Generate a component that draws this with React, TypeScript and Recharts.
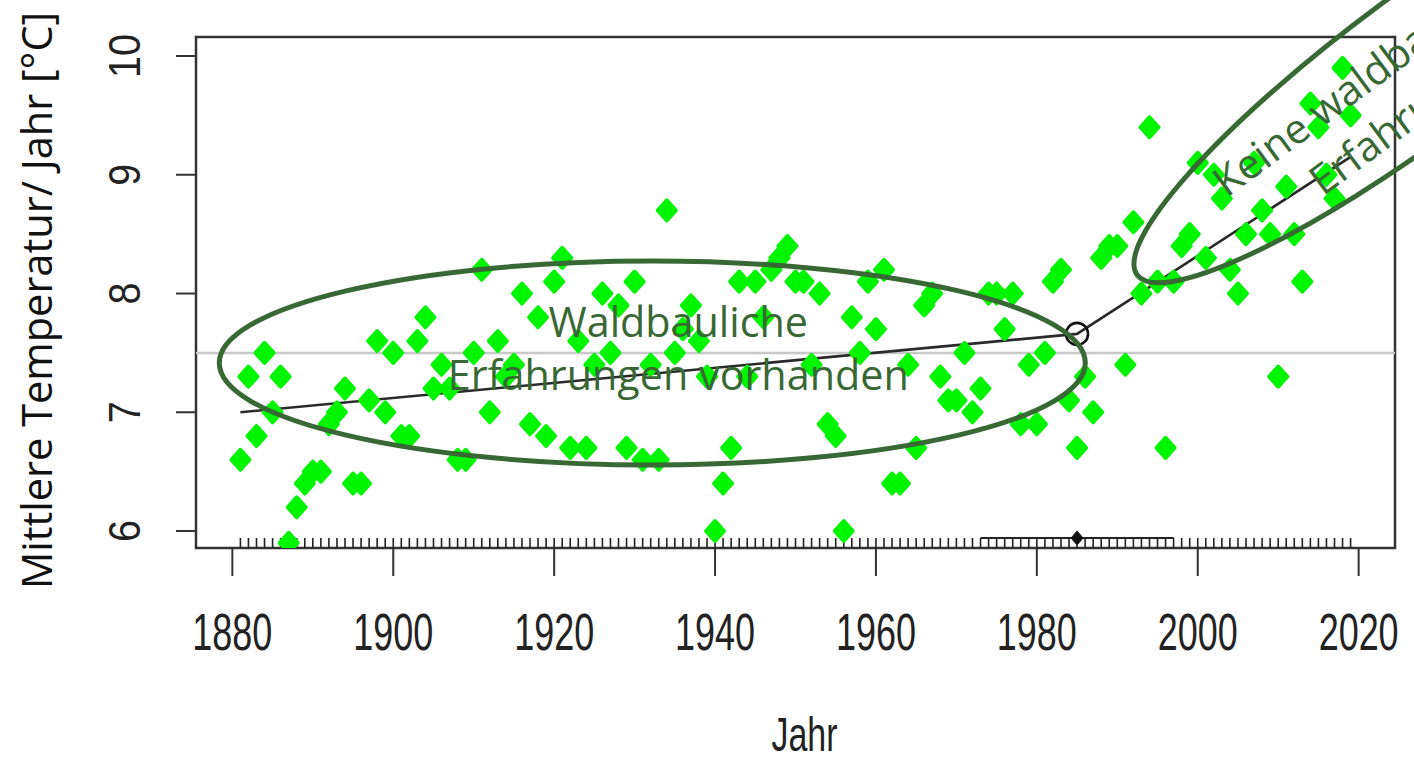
import React from 'react';
import {
  ComposedChart,
  Scatter,
  Line,
  XAxis,
  YAxis,
  ReferenceLine,
  ReferenceDot,
  ReferenceArea,
} from 'recharts';

// ---- data ----
const years = [
  1881, 1882, 1883, 1884, 1885, 1886, 1887, 1888, 1889, 1890,
  1891, 1892, 1893, 1894, 1895, 1896, 1897, 1898, 1899, 1900,
  1901, 1902, 1903, 1904, 1905, 1906, 1907, 1908, 1909, 1910,
  1911, 1912, 1913, 1914, 1915, 1916, 1917, 1918, 1919, 1920,
  1921, 1922, 1923, 1924, 1925, 1926, 1927, 1928, 1929, 1930,
  1931, 1932, 1933, 1934, 1935, 1936, 1937, 1938, 1939, 1940,
  1941, 1942, 1943, 1944, 1945, 1946, 1947, 1948, 1949, 1950,
  1951, 1952, 1953, 1954, 1955, 1956, 1957, 1958, 1959, 1960,
  1961, 1962, 1963, 1964, 1965, 1966, 1967, 1968, 1969, 1970,
  1971, 1972, 1973, 1974, 1975, 1976, 1977, 1978, 1979, 1980,
  1981, 1982, 1983, 1984, 1985, 1986, 1987, 1988, 1989, 1990,
  1991, 1992, 1993, 1994, 1995, 1996, 1997, 1998, 1999, 2000,
  2001, 2002, 2003, 2004, 2005, 2006, 2007, 2008, 2009, 2010,
  2011, 2012, 2013, 2014, 2015, 2016, 2017, 2018, 2019,
];

const temps = [
  6.6, 7.3, 6.8, 7.5, 7.0, 7.3, 5.9, 6.2, 6.4, 6.5,
  6.5, 6.9, 7.0, 7.2, 6.4, 6.4, 7.1, 7.6, 7.0, 7.5,
  6.8, 6.8, 7.6, 7.8, 7.2, 7.4, 7.2, 6.6, 6.6, 7.5,
  8.2, 7.0, 7.6, 7.3, 7.4, 8.0, 6.9, 7.8, 6.8, 8.1,
  8.3, 6.7, 7.6, 6.7, 7.4, 8.0, 7.5, 7.9, 6.7, 8.1,
  6.6, 7.4, 6.6, 8.7, 7.5, 7.7, 7.9, 7.6, 7.3, 6.0,
  6.4, 6.7, 8.1, 7.3, 8.1, 7.8, 8.2, 8.3, 8.4, 8.1,
  8.1, 7.4, 8.0, 6.9, 6.8, 6.0, 7.8, 7.5, 8.1, 7.7,
  8.2, 6.4, 6.4, 7.4, 6.7, 7.9, 8.0, 7.3, 7.1, 7.1,
  7.5, 7.0, 7.2, 8.0, 8.0, 7.7, 8.0, 6.9, 7.4, 6.9,
  7.5, 8.1, 8.2, 7.1, 6.7, 7.3, 7.0, 8.3, 8.4, 8.4,
  7.4, 8.6, 8.0, 9.4, 8.1, 6.7, 8.1, 8.4, 8.5, 9.1,
  8.3, 9.0, 8.8, 8.2, 8.0, 8.5, 9.1, 8.7, 8.5, 7.3,
  8.9, 8.5, 8.1, 9.6, 9.4, 9.0, 8.8, 9.9, 9.5,
];

const xTicks = [1880, 1900, 1920, 1940, 1960, 1980, 2000, 2020];
const yTicks = [6, 7, 8, 9, 10];

// segmented regression fit (breakpoint 1985)
const fitYears = [1881, 1985, 2019];
const fitValues = [7.0, 7.66, 9.15];
const breakYear = 1985;
const breakValue = 7.66;
const breakCI = [1973, 1997];
const meanTemp = 7.5;

const X_DOMAIN = [1875.48, 2024.52];
const Y_DOMAIN = [5.857, 10.16];

// annotation anchors (data coordinates)
const noteLeft = { year: 1932.2, value: 7.415, lines: ['Waldbauliche', 'Erfahrungen vorhanden'] };
const noteRight = { year: 2027.6, value: 9.924, lines: ['Keine waldbaulichen', 'Erfahrungen'] };

const points = years.map((y, i) => ({ year: y, temp: temps[i] }));
const rug = years.map((y) => ({ year: y, temp: Y_DOMAIN[0] }));
const fit = fitYears.map((y, i) => ({ year: y, fit: fitValues[i] }));

const GREEN = '#00f500';
const NOTE = '#386834';
const NOTE_FONT = '"Open Sans", "Noto Sans", sans-serif';
const AXIS_FONT = '"Liberation Sans", Arial, sans-serif';

const Diamond = (p: any) => {
  const { cx, cy } = p;
  if (cx == null || cy == null) return null;
  return (
    <path
      d={`M${cx},${cy - 10}L${cx + 9},${cy}L${cx},${cy + 10}L${cx - 9},${cy}Z`}
      fill={GREEN}
      stroke={GREEN}
      strokeWidth={4}
      strokeLinejoin="round"
    />
  );
};

const RugTick = (p: any) => {
  const { cx, cy } = p;
  if (cx == null || cy == null) return null;
  return <line x1={cx} x2={cx} y1={cy - 10} y2={cy} stroke="#222" strokeWidth={1.6} />;
};

const XTick = (p: any) => {
  const { x, y, payload } = p;
  return (
    <text
      x={x}
      y={y + 72}
      textAnchor="middle"
      fontFamily={AXIS_FONT}
      fontSize={52}
      textLength={80}
      lengthAdjust="spacingAndGlyphs"
      fill="#222"
    >
      {payload.value}
    </text>
  );
};

const YTick = (p: any) => {
  const { x, y, payload } = p;
  const s = String(payload.value);
  const bx = x - 34;
  return (
    <text
      x={bx}
      y={y}
      transform={`rotate(-90 ${bx} ${y})`}
      textAnchor="middle"
      fontFamily={AXIS_FONT}
      fontSize={44}
      textLength={22 * s.length}
      lengthAdjust="spacingAndGlyphs"
      fill="#222"
    >
      {s}
    </text>
  );
};

const XTitle = (p: any) => {
  const vb = p.viewBox || { x: 196, y: 548, width: 1199, height: 209 };
  const cx = vb.x + vb.width / 2 + 9;
  return (
    <text
      x={cx}
      y={vb.y + 203}
      textAnchor="middle"
      fontFamily={AXIS_FONT}
      fontSize={48}
      textLength={66}
      lengthAdjust="spacingAndGlyphs"
      fill="#222"
    >
      Jahr
    </text>
  );
};

const YTitle = (p: any) => {
  const vb = p.viewBox || { x: 0, y: 37, width: 196, height: 511 };
  const bx = vb.x + 52;
  const cy = vb.y + vb.height / 2 + 8;
  return (
    <text
      x={bx}
      y={cy}
      transform={`rotate(-90 ${bx} ${cy})`}
      textAnchor="middle"
      fontFamily={NOTE_FONT}
      fontSize={41.5}
      fill="#111"
    >
      Mittlere Temperatur/ Jahr [°C]
    </text>
  );
};

const LeftNote = (p: any) => {
  const { cx, cy } = p;
  if (cx == null || cy == null) return null;
  return (
    <g>
      <ellipse cx={cx} cy={cy} rx={433} ry={102} fill="none" stroke={NOTE} strokeWidth={5} />
      <text x={cx + 26} y={cy - 26} textAnchor="middle" fontFamily={NOTE_FONT} fontSize={41.3} fill={NOTE}>
        {noteLeft.lines[0]}
      </text>
      <text x={cx + 26} y={cy + 27} textAnchor="middle" fontFamily={NOTE_FONT} fontSize={41.3} fill={NOTE}>
        {noteLeft.lines[1]}
      </text>
    </g>
  );
};

const RightNote = (p: any) => {
  const { cx, cy } = p;
  if (cx == null || cy == null) return null;
  return (
    <g transform={`rotate(-36.6 ${cx} ${cy})`}>
      <ellipse cx={cx} cy={cy} rx={352} ry={72} fill="none" stroke={NOTE} strokeWidth={5} />
      <text x={cx - 36} y={cy - 8} textAnchor="middle" fontFamily={NOTE_FONT} fontSize={41.3} fill={NOTE}>
        {noteRight.lines[0]}
      </text>
      <text x={cx - 36} y={cy + 48} textAnchor="middle" fontFamily={NOTE_FONT} fontSize={41.3} fill={NOTE}>
        {noteRight.lines[1]}
      </text>
    </g>
  );
};

const BreakCircle = (p: any) => {
  const { cx, cy } = p;
  if (cx == null || cy == null) return null;
  return <circle cx={cx} cy={cy} r={11} fill="none" stroke="#111" strokeWidth={2.6} />;
};

const CIDiamond = (p: any) => {
  const { cx, cy } = p;
  if (cx == null || cy == null) return null;
  return (
    <path
      d={`M${cx},${cy - 7}L${cx + 6},${cy}L${cx},${cy + 7}L${cx - 6},${cy}Z`}
      fill="#111"
      stroke="#111"
      strokeWidth={1}
    />
  );
};

export default function App() {
  const ciY = 5.941;
  return (
    <div style={{ position: 'absolute', left: 0, top: 0, width: 1414, height: 757, background: '#fff' }}>
      <ComposedChart
        width={1414}
        height={757}
        data={points}
        margin={{ top: 37, right: 19, bottom: 0, left: 0 }}
      >
        <XAxis
          type="number"
          dataKey="year"
          domain={X_DOMAIN}
          allowDataOverflow
          ticks={xTicks}
          interval={0}
          height={209}
          tickSize={28}
          tickLine={{ stroke: '#333', strokeWidth: 2 }}
          axisLine={false}
          tick={<XTick />}
          label={{ content: <XTitle /> }}
        />
        <YAxis
          type="number"
          dataKey="temp"
          domain={Y_DOMAIN}
          allowDataOverflow
          ticks={yTicks}
          interval={0}
          width={196}
          tickSize={20}
          tickLine={{ stroke: '#333', strokeWidth: 2 }}
          axisLine={false}
          tick={<YTick />}
          label={{ content: <YTitle /> }}
        />
        <ReferenceArea
          x1={X_DOMAIN[0]}
          x2={X_DOMAIN[1]}
          y1={Y_DOMAIN[0]}
          y2={Y_DOMAIN[1]}
          fill="none"
          fillOpacity={0}
          stroke="#333"
          strokeWidth={2.5}
          ifOverflow="visible"
        />
        <Scatter data={rug} dataKey="temp" shape={<RugTick />} isAnimationActive={false} />
        <Scatter data={points} dataKey="temp" shape={<Diamond />} isAnimationActive={false} />
        <ReferenceLine y={meanTemp} stroke="#c8c8c8" strokeWidth={2.5} />
        <Line
          data={fit}
          dataKey="fit"
          type="linear"
          stroke="#2a2a2a"
          strokeWidth={2.6}
          dot={false}
          activeDot={false}
          isAnimationActive={false}
        />
        <ReferenceLine
          segment={[
            { x: breakCI[0], y: ciY },
            { x: breakCI[1], y: ciY },
          ]}
          stroke="#222"
          strokeWidth={2.2}
          ifOverflow="visible"
        />
        <ReferenceDot x={breakYear} y={ciY} shape={<CIDiamond />} ifOverflow="visible" />
        <ReferenceDot x={breakYear} y={breakValue} shape={<BreakCircle />} ifOverflow="visible" />
        <ReferenceDot x={noteLeft.year} y={noteLeft.value} shape={<LeftNote />} ifOverflow="visible" />
        <ReferenceDot x={noteRight.year} y={noteRight.value} shape={<RightNote />} ifOverflow="visible" />
      </ComposedChart>
    </div>
  );
}
